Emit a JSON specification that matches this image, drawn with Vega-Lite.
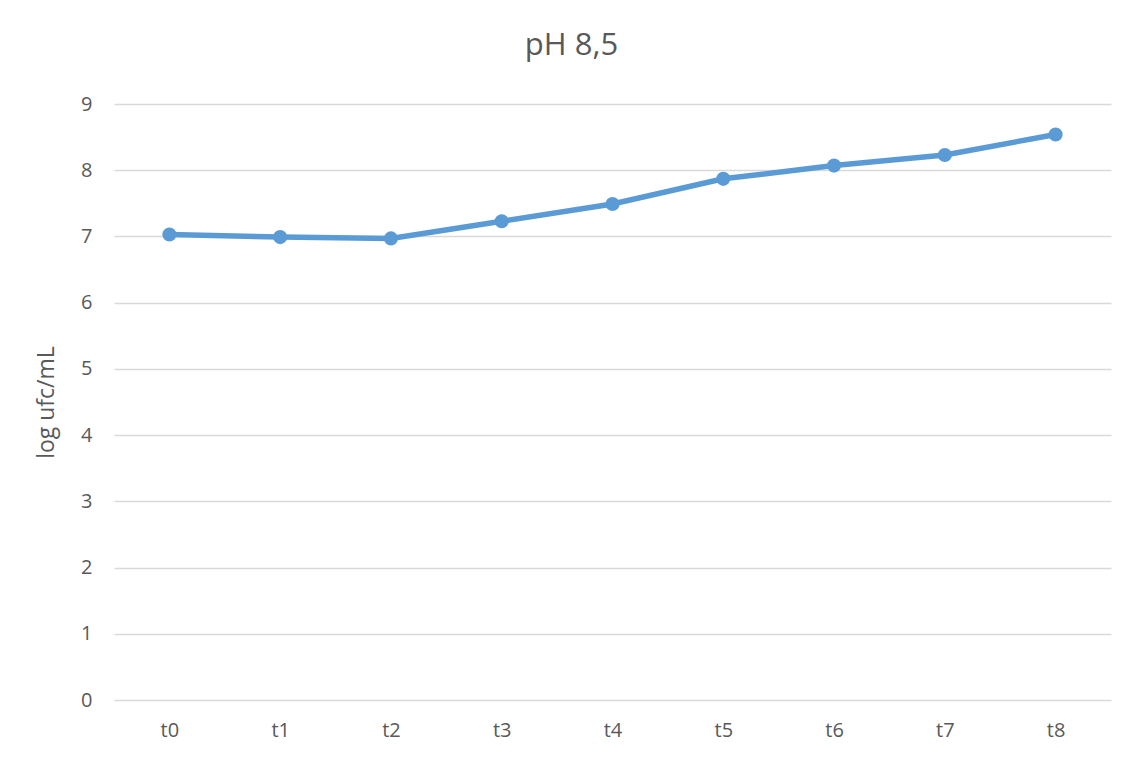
{
  "$schema": "https://vega.github.io/schema/vega-lite/v6.json",
  "autosize": "none",
  "width": 997,
  "height": 596,
  "padding": {"left": 114, "top": 104, "right": 21, "bottom": 58},
  "background": "white",
  "title": {
    "text": "pH 8,5",
    "fontSize": 31,
    "font": "Open Sans",
    "fontWeight": "normal",
    "color": "#595959",
    "anchor": "middle",
    "dx": -41,
    "offset": 32
  },
  "data": {
    "values": [
      {"time": "t0", "log_ufc": 7.03},
      {"time": "t1", "log_ufc": 6.99},
      {"time": "t2", "log_ufc": 6.97},
      {"time": "t3", "log_ufc": 7.23},
      {"time": "t4", "log_ufc": 7.49},
      {"time": "t5", "log_ufc": 7.87},
      {"time": "t6", "log_ufc": 8.07},
      {"time": "t7", "log_ufc": 8.23},
      {"time": "t8", "log_ufc": 8.54}
    ]
  },
  "mark": {
    "type": "line",
    "color": "#5B9BD5",
    "strokeWidth": 5.5,
    "point": {"filled": true, "size": 200, "color": "#5B9BD5", "opacity": 1}
  },
  "encoding": {
    "x": {
      "field": "time",
      "type": "ordinal",
      "sort": null,
      "scale": {"type": "point", "padding": 0.5},
      "axis": {
        "title": null,
        "labelAngle": 0,
        "domain": false,
        "ticks": false,
        "grid": false,
        "labelPadding": 20,
        "labelFontSize": 20,
        "labelFont": "Open Sans",
        "labelColor": "#595959"
      }
    },
    "y": {
      "field": "log_ufc",
      "type": "quantitative",
      "scale": {"domain": [0, 9], "nice": false, "zero": true},
      "axis": {
        "title": "log ufc/mL",
        "titleFont": "Open Sans",
        "titleFontSize": 23,
        "titleFontWeight": "normal",
        "titleColor": "#595959",
        "titlePadding": 22,
        "values": [0, 1, 2, 3, 4, 5, 6, 7, 8, 9],
        "domain": false,
        "ticks": false,
        "grid": true,
        "gridColor": "#d9d9d9",
        "gridWidth": 1.5,
        "labelPadding": 22,
        "labelFontSize": 20,
        "labelFont": "Open Sans",
        "labelColor": "#595959"
      }
    }
  },
  "config": {"view": {"stroke": null}}
}
